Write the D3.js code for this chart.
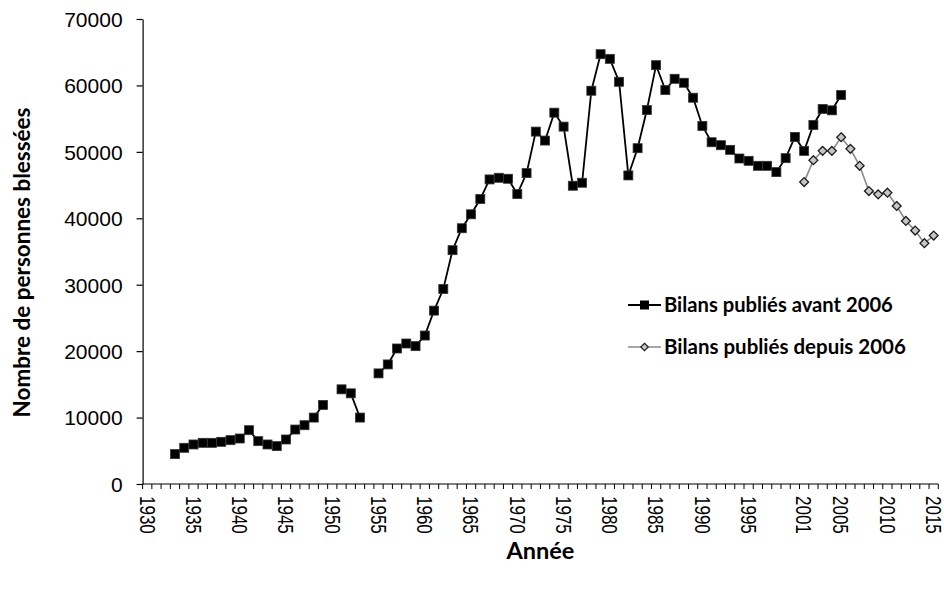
<!DOCTYPE html>
<html>
<head>
<meta charset="utf-8">
<script src="https://cdn.jsdelivr.net/npm/d3@7"></script>
<style>
  html, body { margin: 0; padding: 0; background: #fff; }
  svg { display: block; }
</style>
</head>
<body>
<svg id="chart" width="944" height="591"></svg>
<script>
// ---- data ----
const categories = d3.range(1930, 2016);
const xTickLabels = [1930, 1935, 1940, 1945, 1950, 1955, 1960, 1965, 1970, 1975, 1980, 1985, 1990, 1995, 2001, 2005, 2010, 2015];
const yTicks = [0, 10000, 20000, 30000, 40000, 50000, 60000, 70000];

const yearsBefore = [1933,1934,1935,1936,1937,1938,1939,1940,1941,1942,1943,1944,1945,1946,1947,1948,1949,1950,1951,1952,1953,1954,1955,1956,1957,1958,1959,1960,1961,1962,1963,1964,1965,1966,1967,1968,1969,1970,1971,1972,1973,1974,1975,1976,1977,1978,1979,1980,1981,1982,1983,1984,1985,1986,1987,1988,1989,1990,1991,1992,1993,1994,1995,1996,1997,1998,1999,2000,2001,2002,2003,2004,2005];
const valuesBefore = [4500,5450,5950,6200,6200,6350,6600,6850,8100,6450,5950,5700,6700,8200,8850,10000,11900,null,14250,13650,10000,null,16650,18000,20400,21150,20750,22350,26100,29350,35200,38500,40600,42900,45850,46100,45950,43650,46800,53050,51700,55900,53800,44900,45350,59200,64700,64000,60550,46450,50550,56300,63050,59300,61000,60400,58150,53900,51450,51000,50300,49000,48650,47900,47900,46950,49050,52250,50150,54050,56450,56250,58550];

const yearsSince = [2001,2002,2003,2004,2005,2006,2007,2008,2009,2010,2011,2012,2013,2014,2015];
const valuesSince = [45450,48750,50150,50150,52200,50450,47900,44100,43600,43850,41850,39600,38150,36250,37400];

const seriesNames = ["Bilans publiés avant 2006", "Bilans publiés depuis 2006"];
const xTitle = "Année";
const yTitle = "Nombre de personnes blessées";

// ---- layout ----
const svg = d3.select("#chart");
const plotLeft = 142.6, plotRight = 938.3, plotTop = 19, plotBottom = 484;
const tickFont = "'Liberation Sans', Arial, sans-serif";
const titleFont = "Lato, 'Open Sans', sans-serif";

const x = d3.scaleBand().domain(categories).range([plotLeft, plotRight]).paddingInner(0).paddingOuter(0);
const y = d3.scaleLinear().domain([0, 70000]).range([plotBottom, plotTop]);

// y axis
const yAxis = svg.append("g")
  .attr("transform", `translate(${plotLeft},0)`)
  .call(d3.axisLeft(y).tickValues(yTicks).tickSize(6).tickSizeOuter(0).tickPadding(14).tickFormat(d3.format("d")));
yAxis.select(".domain").attr("stroke", "#000").attr("stroke-width", 1.2);
yAxis.selectAll(".tick line").attr("stroke", "#000").attr("stroke-width", 1.2);
yAxis.selectAll(".tick text").attr("font-family", tickFont).attr("font-size", 21).attr("fill", "#000").attr("dy", "0.35em");

// x axis: line + category boundary ticks
const xAxis = svg.append("g").attr("transform", `translate(0,${plotBottom})`);
xAxis.append("line").attr("x1", plotLeft).attr("x2", plotRight).attr("y1", 0).attr("y2", 0)
  .attr("stroke", "#000").attr("stroke-width", 1.2);
const boundaries = categories.map(c => x(c)).concat([x(categories[categories.length - 1]) + x.bandwidth()]);
xAxis.selectAll("line.tk").data(boundaries).join("line").attr("class", "tk")
  .attr("x1", d => d).attr("x2", d => d).attr("y1", 0).attr("y2", 5)
  .attr("stroke", "#000").attr("stroke-width", 1);

const xLab = svg.append("g")
  .attr("transform", `translate(0,${plotBottom})`)
  .call(d3.axisBottom(x).tickValues(xTickLabels).tickSize(0).tickSizeOuter(0));
xLab.select(".domain").remove();
xLab.selectAll(".tick text")
  .attr("font-family", tickFont).attr("font-size", 17).attr("fill", "#000")
  .attr("transform", "scale(1.25,1) rotate(90)")
  .attr("x", 12).attr("y", 0).attr("dy", "0.36em")
  .style("text-anchor", "start");

// titles
function fitText(sel, target) {
  const w = sel.node().getComputedTextLength();
  const fs = parseFloat(sel.attr("font-size"));
  if (w > 0) sel.attr("font-size", fs * target / w);
}
const xt = svg.append("text").text(xTitle)
  .attr("x", (plotLeft + plotRight) / 2).attr("y", 559)
  .attr("text-anchor", "middle").attr("font-family", titleFont).attr("font-weight", 700).attr("font-size", 22).attr("fill", "#000");
fitText(xt, 68);
const yt = svg.append("text").text(yTitle)
  .attr("transform", `translate(30,${(plotTop + plotBottom) / 2 + 11}) rotate(-90)`)
  .attr("text-anchor", "middle").attr("font-family", titleFont).attr("font-weight", 700).attr("font-size", 22).attr("fill", "#000");
fitText(yt, 310);

// series
const dataBefore = yearsBefore.map((yr, i) => ({ yr, v: valuesBefore[i] }));
const dataSince = yearsSince.map((yr, i) => ({ yr, v: valuesSince[i] }));
const cx = d => x(d.yr) + x.bandwidth() / 2;
const line = d3.line().defined(d => d.v != null).x(cx).y(d => y(d.v));

svg.append("path").datum(dataBefore).attr("d", line)
  .attr("fill", "none").attr("stroke", "#000").attr("stroke-width", 1.8);
svg.append("path").datum(dataSince).attr("d", line)
  .attr("fill", "none").attr("stroke", "#8a8a8a").attr("stroke-width", 1.6);

const sq = 9;
svg.append("g").selectAll("rect").data(dataBefore.filter(d => d.v != null)).join("rect")
  .attr("x", d => cx(d) - sq / 2).attr("y", d => y(d.v) - sq / 2)
  .attr("width", sq).attr("height", sq)
  .attr("fill", "#000").attr("stroke", "#333").attr("stroke-width", 0.8);

const diamond = d3.symbol().type(d3.symbolDiamond2).size(50);
svg.append("g").selectAll("path").data(dataSince).join("path")
  .attr("d", diamond)
  .attr("transform", d => `translate(${cx(d)},${y(d.v)})`)
  .attr("fill", "#c6c6c6").attr("stroke", "#1a1a1a").attr("stroke-width", 1.3);

// legend
const legend = svg.append("g");
const legY = [305, 347];
const legTargets = [229, 242];
legend.append("line").attr("x1", 628).attr("x2", 661).attr("y1", legY[0]).attr("y2", legY[0]).attr("stroke", "#000").attr("stroke-width", 1.8);
legend.append("rect").attr("x", 644.5 - sq / 2).attr("y", legY[0] - sq / 2).attr("width", sq).attr("height", sq).attr("fill", "#000");
legend.append("line").attr("x1", 628).attr("x2", 661).attr("y1", legY[1]).attr("y2", legY[1]).attr("stroke", "#8a8a8a").attr("stroke-width", 1.6);
legend.append("path").attr("d", d3.symbol().type(d3.symbolDiamond2).size(36)).attr("transform", `translate(644.5,${legY[1]})`)
  .attr("fill", "#c6c6c6").attr("stroke", "#1a1a1a").attr("stroke-width", 1.1);
seriesNames.forEach((n, i) => {
  const t = legend.append("text").text(n).attr("x", 664).attr("y", legY[i]).attr("dy", "0.35em")
    .attr("font-family", titleFont).attr("font-weight", 700).attr("font-size", 19).attr("fill", "#000");
  fitText(t, legTargets[i]);
});
</script>
</body>
</html>
